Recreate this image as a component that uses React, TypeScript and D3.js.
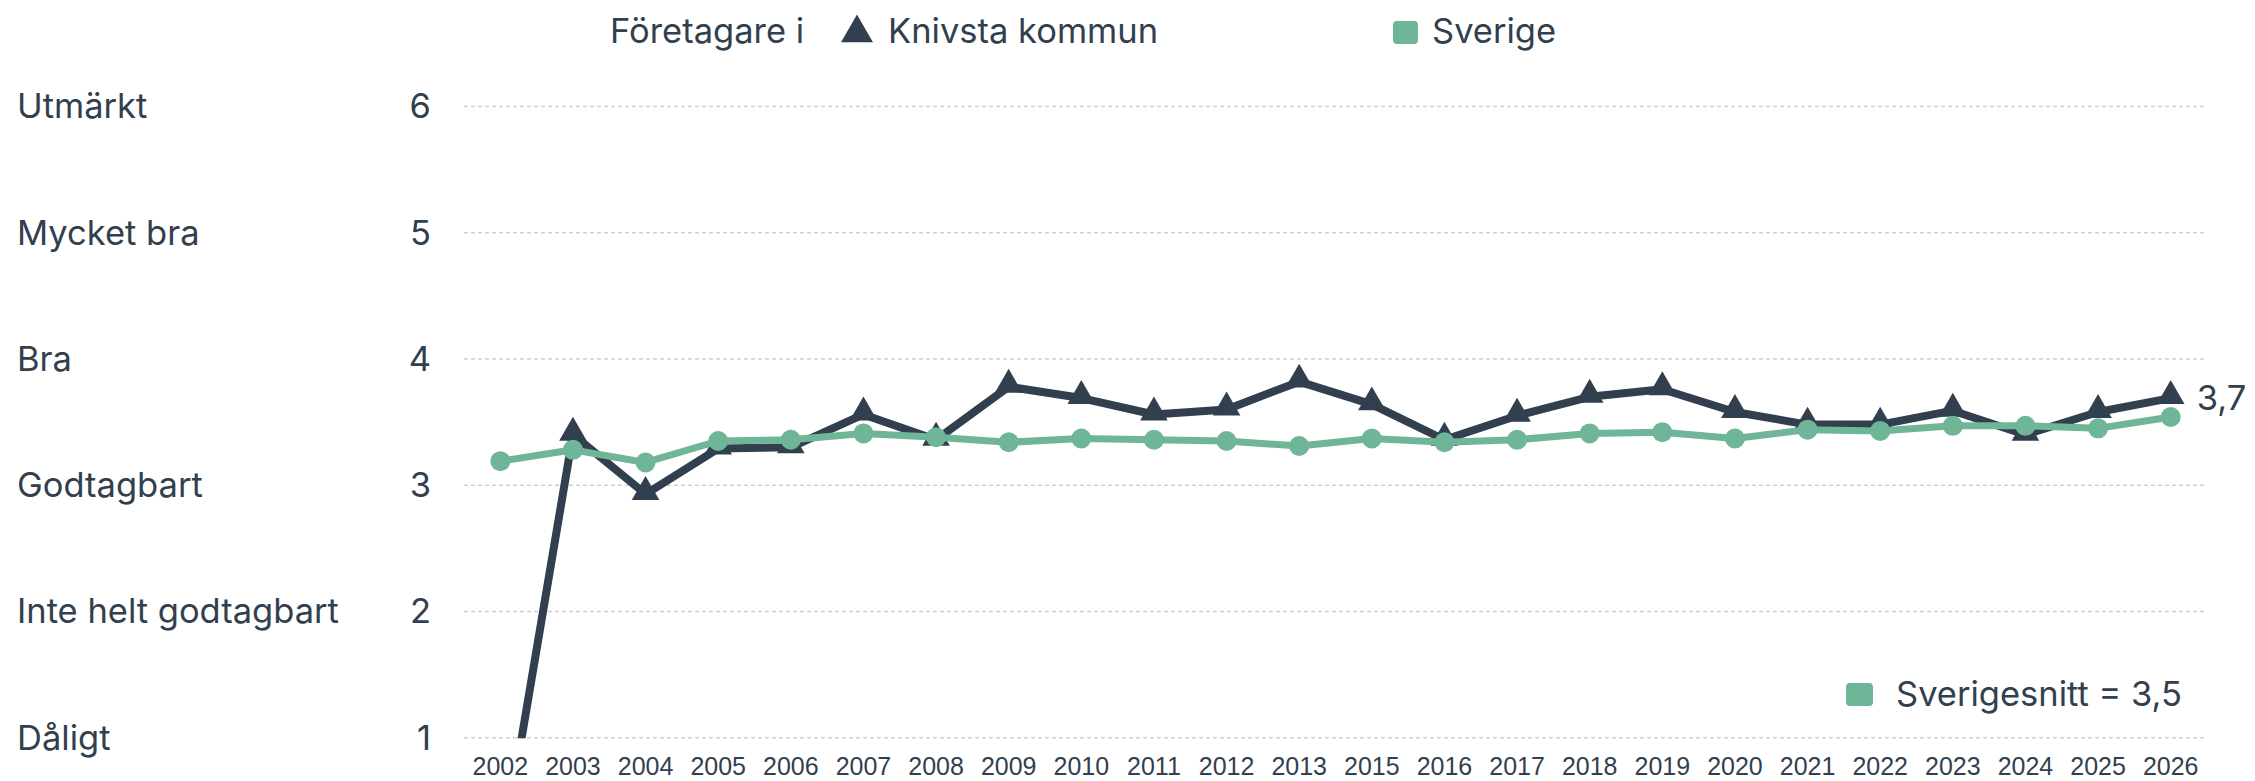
import React from "react";
import * as d3 from "d3";

const years = ["2002","2003","2004","2005","2006","2007","2008","2009","2010","2011","2012","2013","2015","2016","2017","2018","2019","2020","2021","2022","2023","2024","2025","2026"];
const knivsta = [0, 3.40, 2.93, 3.29, 3.30, 3.56, 3.36, 3.78, 3.69, 3.56, 3.60, 3.82, 3.64, 3.36, 3.55, 3.70, 3.76, 3.58, 3.48, 3.48, 3.59, 3.40, 3.58, 3.69];
const sverige = [3.19, 3.28, 3.18, 3.35, 3.36, 3.41, 3.38, 3.34, 3.37, 3.36, 3.35, 3.31, 3.37, 3.34, 3.36, 3.41, 3.42, 3.37, 3.44, 3.43, 3.47, 3.47, 3.45, 3.54];
const yTicks = [1, 2, 3, 4, 5, 6];
const yCategories = ["Dåligt", "Inte helt godtagbart", "Godtagbart", "Bra", "Mycket bra", "Utmärkt"];
const lastLabel = "3,7";
const avgLabel = "Sverigesnitt = 3,5";

const W = 2255, H = 781;
const DARK = "#323f4e";
const GREEN = "#6fb598";
const FONT = "Inter, 'Noto Sans', sans-serif";
const YEARFONT = "'Liberation Sans', Arial, sans-serif";
const FS = 34.5;

export default function App() {
  const x = d3.scaleBand<string>().domain(years).range([464, 2207]);
  const xc = (i: number) => (x(years[i]) as number) + x.bandwidth() / 2;
  const y = d3.scaleLinear().domain([1, 6]).range([737.7, 106.4]);
  const line = d3.line<number>().x((_, i) => xc(i)).y((d) => y(d));
  const tri = d3.symbol().type(d3.symbolTriangle).size(330)();
  const legendTri = d3.symbol().type(d3.symbolTriangle).size(440)();
  const last = knivsta.length - 1;

  return (
    <svg width={W} height={H} style={{ position: "absolute", left: 0, top: 0, background: "#fff" }}>
      <defs>
        <clipPath id="plotclip">
          <rect x={0} y={60} width={W} height={y(1) - 60 + 0.5} />
        </clipPath>
      </defs>
      {yTicks.map((t) => (
        <line key={t} x1={464} x2={2207} y1={y(t)} y2={y(t)} stroke="#cfcfcf" strokeWidth={1.5} strokeDasharray="4,3" />
      ))}
      {yTicks.map((t) => (
        <text key={"n" + t} x={431} y={y(t) + 12} textAnchor="end" fontFamily={FONT} fontSize={FS} fill={DARK}>{t}</text>
      ))}
      {yCategories.map((c, i) => (
        <text key={c} x={17} y={y(yTicks[i]) + 12} fontFamily={FONT} fontSize={FS} fill={DARK}>{c}</text>
      ))}
      {years.map((yr, i) => (
        <text key={yr} x={xc(i)} y={775} textAnchor="middle" fontFamily={YEARFONT} fontSize={25} fill={DARK}>{yr}</text>
      ))}
      <g clipPath="url(#plotclip)">
        <path d={line(knivsta) || ""} fill="none" stroke={DARK} strokeWidth={8} strokeLinejoin="round" />
        {knivsta.map((v, i) => (
          <path key={"t" + i} d={tri || ""} transform={`translate(${xc(i)},${y(v) - 2})`} fill={DARK} />
        ))}
        <path d={line(sverige) || ""} fill="none" stroke={GREEN} strokeWidth={7} strokeLinejoin="round" />
        {sverige.map((v, i) => (
          <circle key={"c" + i} cx={xc(i)} cy={y(v)} r={10} fill={GREEN} />
        ))}
      </g>
      <text x={xc(last) + 26} y={y(knivsta[last]) + 12} fontFamily={FONT} fontSize={FS} fill={DARK}>{lastLabel}</text>
      <text x={610} y={43} fontFamily={FONT} fontSize={FS} fill={DARK}>Företagare i</text>
      <path d={legendTri || ""} transform="translate(857,33)" fill={DARK} />
      <text x={888} y={43} fontFamily={FONT} fontSize={FS} fill={DARK}>Knivsta kommun</text>
      <rect x={1393} y={21} width={25} height={23} rx={4} fill={GREEN} />
      <text x={1432} y={43} fontFamily={FONT} fontSize={FS} fill={DARK}>Sverige</text>
      <rect x={1846} y={683} width={27} height={23} rx={4} fill={GREEN} />
      <text x={1896} y={706} fontFamily={FONT} fontSize={FS} fill={DARK}>{avgLabel}</text>
    </svg>
  );
}
